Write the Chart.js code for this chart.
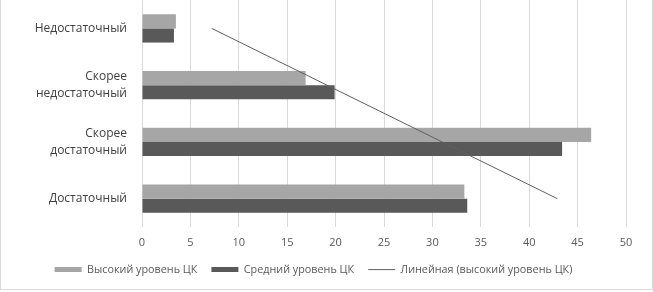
<!DOCTYPE html>
<html>
<head>
<meta charset="utf-8">
<script src="https://cdn.jsdelivr.net/npm/chart.js"></script>
<style>
  body { margin: 0; background: #fff; }
  #wrap {
    position: relative;
    width: 651px;
    height: 289px;
    border: 1px solid #d9d9d9;
    border-top: none;
  }
</style>
</head>
<body>
<div id="wrap"><canvas id="myChart"></canvas></div>
<script>
// categories (top to bottom)
var categories = [
  "Недостаточный",
  ["Скорее", "недостаточный"],
  ["Скорее", "достаточный"],
  "Достаточный"
];
var seriesNames = ["Высокий уровень ЦК", "Средний уровень ЦК", "Линейная (высокий уровень ЦК)"];
var highValues = [3.5, 16.9, 46.4, 33.3];
var midValues = [3.3, 19.9, 43.4, 33.6];
// trendline
var trendValues = [7.2, 19.1, 31.0, 42.9];
var xTicks = [0, 5, 10, 15, 20, 25, 30, 35, 40, 45, 50];

var fontFamily = "'Open Sans', sans-serif";

new Chart("myChart", {
  type: "bar",
  data: {
    labels: categories,
    datasets: [
      {
        label: seriesNames[0],
        data: highValues,
        backgroundColor: "#a6a6a6",
        borderWidth: 0,
        categoryPercentage: 0.5,
        barPercentage: 1.0,
        order: 1
      },
      {
        label: seriesNames[1],
        data: midValues,
        backgroundColor: "#595959",
        borderWidth: 0,
        categoryPercentage: 0.5,
        barPercentage: 1.0,
        order: 1
      },
      {
        type: "line",
        label: seriesNames[2],
        data: trendValues,
        borderColor: "#5f5f5f",
        backgroundColor: "#5f5f5f",
        borderWidth: 1,
        pointRadius: 0,
        fill: false,
        order: 0
      }
    ]
  },
  options: {
    indexAxis: "y",
    responsive: true,
    maintainAspectRatio: false,
    animation: false,
    layout: {
      padding: { top: 0, right: 26, bottom: 4, left: 0 }
    },
    plugins: {
      tooltip: { enabled: false },
      legend: {
        display: true,
        position: "bottom",
        labels: {
          usePointStyle: true,
          pointStyleWidth: 27,
          boxHeight: 5,
          padding: 14,
          color: "#595959",
          font: { family: fontFamily, size: 10.8 },
          sort: function (a, b) { return a.datasetIndex - b.datasetIndex; },
          generateLabels: function (chart) {
            var items = Chart.defaults.plugins.legend.labels.generateLabels(chart);
            items.forEach(function (it) {
              if (it.datasetIndex === 2) {
                it.pointStyle = "line";
                it.strokeStyle = "#5f5f5f";
                it.lineWidth = 1;
              } else {
                it.pointStyle = "rect";
                it.lineWidth = 0;
              }
            });
            return items;
          }
        }
      }
    },
    scales: {
      x: {
        min: 0,
        max: 50,
        afterBuildTicks: function (scale) {
          scale.ticks = xTicks.map(function (v) { return { value: v }; });
        },
        afterFit: function (scale) {
          scale.height = scale.height - 8;
        },
        grid: {
          color: "#d9d9d9",
          lineWidth: 1,
          drawTicks: false
        },
        border: { display: false },
        ticks: {
          padding: 9,
          color: "#595959",
          font: { family: fontFamily, size: 11 }
        }
      },
      y: {
        grid: { display: false, drawTicks: false },
        border: { display: false },
        afterFit: function (scale) {
          scale.width = 141;
          scale.paddingTop = 0;
          scale.paddingBottom = 0;
        },
        ticks: {
          padding: 15,
          color: "#404040",
          font: { family: fontFamily, size: 12, lineHeight: 1.4 }
        }
      }
    }
  }
});
</script>
</body>
</html>
